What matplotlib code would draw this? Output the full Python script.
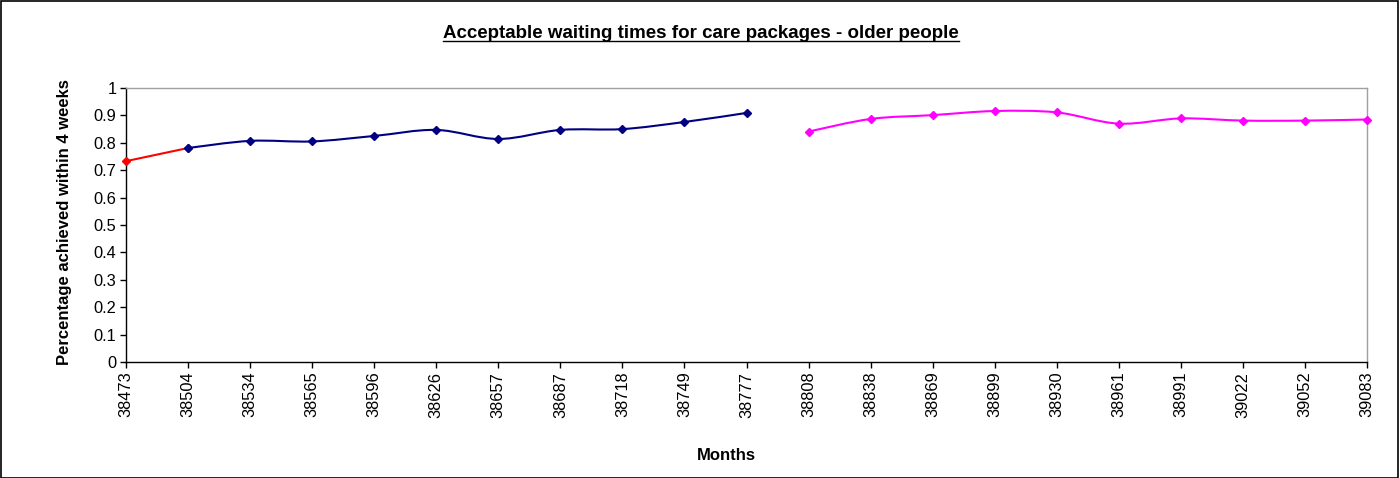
import matplotlib
matplotlib.use("Agg")
import matplotlib.pyplot as plt
from matplotlib.path import Path
from matplotlib.patches import PathPatch, Rectangle
from matplotlib.lines import Line2D

plt.rcParams['font.family'] = ['Liberation Sans', 'DejaVu Sans']

months = ['38473', '38504', '38534', '38565', '38596', '38626', '38657',
          '38687', '38718', '38749', '38777', '38808', '38838', '38869',
          '38899', '38930', '38961', '38991', '39022', '39052', '39083']

# series: (first category index, values)
red_start = 0
red_vals = [0.733, 0.781]
navy_start = 1
navy_vals = [0.781, 0.807, 0.805, 0.825, 0.847, 0.814, 0.847, 0.850, 0.876, 0.909]
pink_start = 11
pink_vals = [0.841, 0.887, 0.901, 0.916, 0.911, 0.870, 0.889, 0.881, 0.881, 0.885]
yticks = ['0', '0.1', '0.2', '0.3', '0.4', '0.5', '0.6', '0.7', '0.8', '0.9', '1']


def smooth_path(xs, ys):
    # Excel-style smoothed line: cubic bezier with catmull-rom control points
    pts = list(zip(xs, ys))
    n = len(pts)
    verts = [pts[0]]
    codes = [Path.MOVETO]
    for i in range(n - 1):
        p0 = pts[i - 1] if i > 0 else pts[i]
        p1 = pts[i]
        p2 = pts[i + 1]
        p3 = pts[i + 2] if i + 2 < n else pts[i + 1]
        c1 = (p1[0] + (p2[0] - p0[0]) / 6, p1[1] + (p2[1] - p0[1]) / 6)
        c2 = (p2[0] - (p3[0] - p1[0]) / 6, p2[1] - (p3[1] - p1[1]) / 6)
        verts += [c1, c2, p2]
        codes += [Path.CURVE4] * 3
    return Path(verts, codes)


fig = plt.figure(figsize=(14, 4.78), dpi=100)
ax = fig.add_axes([126 / 1400, 1 - 362 / 478, (1367 - 126) / 1400, (362 - 88) / 478])

for start, vals, col in [(red_start, red_vals, '#ff0000'),
                         (navy_start, navy_vals, '#000080'),
                         (pink_start, pink_vals, '#ff00ff')]:
    xs = list(range(start, start + len(vals)))
    ax.add_patch(PathPatch(smooth_path(xs, vals), facecolor='none',
                           edgecolor=col, lw=1.5, zorder=3, clip_on=False))
    ax.plot(xs, vals, linestyle='none', marker='D', markersize=4.5,
            color=col, zorder=4, clip_on=False)

ax.set_xlim(0, len(months) - 1)
ax.set_ylim(0, 1)
ax.set_xticks(range(len(months)))
ax.set_xticklabels(months, rotation=90, fontsize=11.8)
ax.set_yticks([i / 10 for i in range(11)])
ax.set_yticklabels(yticks, fontsize=11.8)
ax.tick_params(axis='both', direction='out', length=4, width=1, pad=3)

ax.spines['left'].set_color('black')
ax.spines['bottom'].set_color('black')
ax.spines['top'].set_color('#a0a0a0')
ax.spines['right'].set_color('#a0a0a0')
for s in ax.spines.values():
    s.set_linewidth(1)

ax.set_ylabel('Percentage achieved within 4 weeks', fontsize=12,
              fontweight='bold')
ax.yaxis.set_label_coords((72 - 126) / 1241, 0.51)

fig.text(726 / 1400, 1 - 455 / 478, 'Months', ha='center', va='center',
         fontsize=12, fontweight='bold')

title = fig.text(701 / 1400, 1 - 33 / 478,
                 'Acceptable waiting times for care packages - older people',
                 ha='center', va='center', fontsize=13.5, fontweight='bold')
renderer = fig.canvas.get_renderer()
bb = title.get_window_extent(renderer).transformed(fig.transFigure.inverted())
fig.add_artist(Line2D([bb.x0, bb.x1], [bb.y0 + 0.002, bb.y0 + 0.002],
                      color='black', lw=1, transform=fig.transFigure))

fig.add_artist(Rectangle((0.0005, 0.001), 0.998, 0.997, fill=False,
                         edgecolor='black', lw=1.2, transform=fig.transFigure))

fig.savefig('out.png', dpi=100)
